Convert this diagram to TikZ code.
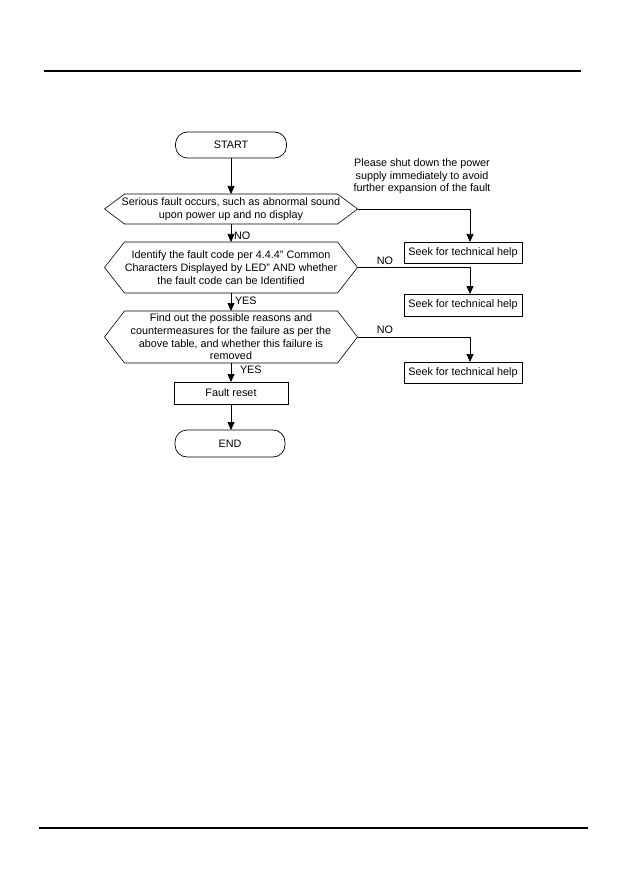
\documentclass[tikz,border=0pt]{standalone}
\usepackage{fontspec}
\setmainfont{Liberation Sans}
\usetikzlibrary{arrows.meta,calc}
\tikzset{
  base/.style={font=\fontsize{10.8}{12.7}\selectfont, align=center, inner sep=0pt, outer sep=0pt},
  term/.style={base, draw, line width=0.7pt, rounded corners=12pt},
  boxx/.style={base, draw, line width=0.7pt},
  hexnode/.style={base, minimum width=253pt},
  lbl/.style={base},
  conn/.style={line width=0.75pt, -{Triangle[length=8pt,width=7pt]}},
  rule/.style={line width=1.1pt}
}
\newcommand\hexoutline[1]{\draw[line width=0.6pt] (#1.west) -- ([xshift=20pt]#1.north west) -- ([xshift=-20pt]#1.north east) -- (#1.east) -- ([xshift=-20pt]#1.south east) -- ([xshift=20pt]#1.south west) -- cycle;}
\begin{document}
\begin{tikzpicture}[x=1pt,y=-1pt]
\useasboundingbox (0,0) rectangle (630,893);
\draw[rule] (44,71) -- (581,71);
\draw[rule] (39,828) -- (588,828);

\node[term, minimum width=111pt, minimum height=26pt] (start) at (231,145) {START};
\node[hexnode, minimum height=30pt] (d1) at (231,209) {Serious fault occurs, such as abnormal sound\\upon power up and no display};
\node[hexnode, minimum height=51pt] (d2) at (231,267.5) {Identify the fault code per 4.4.4'' Common\\Characters Displayed by LED'' AND whether\\the fault code can be Identified};
\node[hexnode, minimum height=52pt] (d3) at (231,337) {Find out the possible reasons and\\countermeasures for the failure as per the\\above table, and whether this failure is\\removed};
\hexoutline{d1}
\hexoutline{d2}
\hexoutline{d3}
\node[boxx, minimum width=114pt, minimum height=22pt] (reset) at (231,393) {Fault reset};
\node[term, minimum width=110pt, minimum height=27pt] (end) at (230,443.5) {END};

\node[lbl] (note) at (422,176.5) {Please shut down the power\\supply immediately to avoid\\further expansion of the fault};
\node[boxx, minimum width=118pt, minimum height=21pt] (b1) at (463,252.5) {Seek for technical help};
\node[boxx, minimum width=118pt, minimum height=22pt] (b2) at (463,305) {Seek for technical help};
\node[boxx, minimum width=118pt, minimum height=21pt] (b3) at (463,372.5) {Seek for technical help};

\draw[conn] (start.south) -- (d1.north);
\draw[conn] (d1.south) -- (d2.north);
\draw[conn] (d2.south) -- (d3.north);
\draw[conn] (d3.south) -- (reset.north);
\draw[conn] (reset.south) -- (reset.south |- end.north);

\draw[conn] (d1.east) -| ([xshift=7pt]b1.north);
\draw[conn] (d2.east) -| ([xshift=7pt]b2.north);
\draw[conn] (d3.east) -| ([xshift=7pt]b3.north);

\node[lbl, anchor=west] (no1) at (234,236) {NO};
\node[lbl] (no2) at (385,261) {NO};
\node[lbl] (no3) at (385,329.5) {NO};
\node[lbl, anchor=west] (yes1) at (235,301) {YES};
\node[lbl, anchor=west] (yes2) at (240,370) {YES};
\end{tikzpicture}
\end{document}
